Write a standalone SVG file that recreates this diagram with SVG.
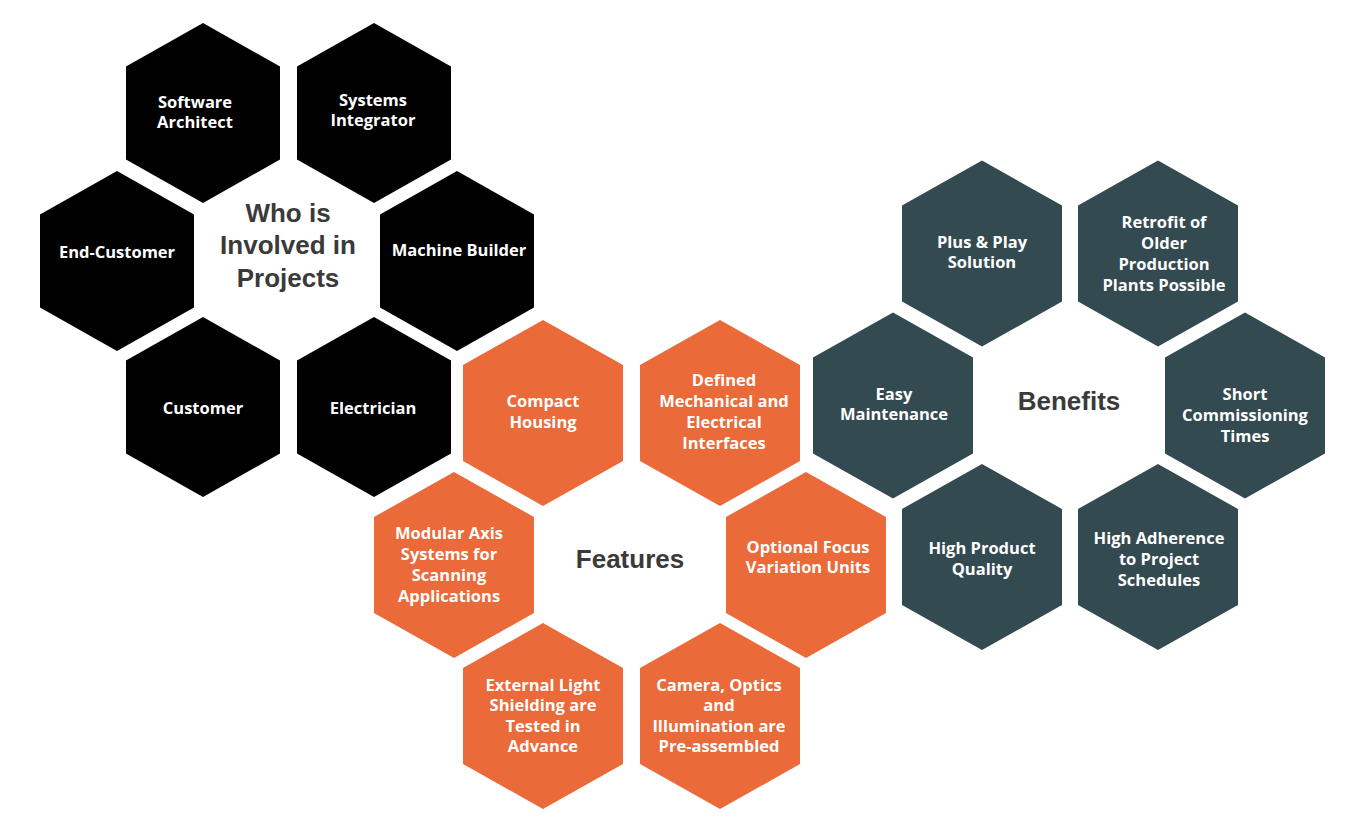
<svg xmlns="http://www.w3.org/2000/svg" xmlns:xlink="http://www.w3.org/1999/xlink" width="1371" height="834" viewBox="0 0 1371 834">
<defs>
<style>
.blk{fill:#000000}
.org{fill:#EA6A3A}
.drk{fill:#334A51}
.lbl{font-family:"Open Sans","Liberation Sans",sans-serif;font-weight:700;font-size:16.5px;fill:#ffffff;text-anchor:middle}
.ttl{font-family:"Liberation Sans",Arial,sans-serif;font-weight:700;font-size:26px;fill:#3a3a3a;text-anchor:middle}
</style>
<polygon id="hexS" points="0,-90 77,-46.5 77,46.5 0,90 -77,46.5 -77,-46.5"/>
<polygon id="hexL" points="0,-93 80,-48 80,48 0,93 -80,48 -80,-48"/>
</defs>
<rect width="1371" height="834" fill="#ffffff"/>
<g id="connectors"></g>

<g id="who-title"><text class="ttl"><tspan x="288" y="222">Who is</tspan><tspan x="288" y="254">Involved in</tspan><tspan x="288" y="287">Projects</tspan></text></g>
<g id="software-architect"><use href="#hexS" x="203" y="113" class="blk"/><text class="lbl"><tspan x="195" y="108">Software</tspan><tspan x="195" y="128">Architect</tspan></text></g>
<g id="systems-integrator"><use href="#hexS" x="374" y="113" class="blk"/><text class="lbl"><tspan x="373" y="106">Systems</tspan><tspan x="373" y="126">Integrator</tspan></text></g>
<g id="end-customer"><use href="#hexS" x="117" y="261" class="blk"/><text class="lbl"><tspan x="117" y="258">End-Customer</tspan></text></g>
<g id="machine-builder"><use href="#hexS" x="457" y="261" class="blk"/><text class="lbl"><tspan x="459" y="256">Machine Builder</tspan></text></g>
<g id="customer"><use href="#hexS" x="203" y="407" class="blk"/><text class="lbl"><tspan x="203" y="414">Customer</tspan></text></g>
<g id="electrician"><use href="#hexS" x="374" y="407" class="blk"/><text class="lbl"><tspan x="373" y="414">Electrician</tspan></text></g>

<g id="features-title"><text class="ttl"><tspan x="630" y="568">Features</tspan></text></g>
<g id="compact-housing"><use href="#hexL" x="543" y="413" class="org"/><text class="lbl"><tspan x="543" y="407">Compact</tspan><tspan x="543" y="428">Housing</tspan></text></g>
<g id="defined-interfaces"><use href="#hexL" x="720" y="413" class="org"/><text class="lbl"><tspan x="724" y="386">Defined</tspan><tspan x="724" y="407">Mechanical and</tspan><tspan x="724" y="428">Electrical</tspan><tspan x="724" y="449">Interfaces</tspan></text></g>
<g id="modular-axis"><use href="#hexL" x="454" y="565" class="org"/><text class="lbl"><tspan x="449" y="539">Modular Axis</tspan><tspan x="449" y="560">Systems for</tspan><tspan x="449" y="581">Scanning</tspan><tspan x="449" y="602">Applications</tspan></text></g>
<g id="optional-focus"><use href="#hexL" x="806" y="565" class="org"/><text class="lbl"><tspan x="808" y="553">Optional Focus</tspan><tspan x="808" y="573">Variation Units</tspan></text></g>
<g id="external-light"><use href="#hexL" x="543" y="716" class="org"/><text class="lbl"><tspan x="543" y="691">External Light</tspan><tspan x="543" y="711">Shielding are</tspan><tspan x="543" y="732">Tested in</tspan><tspan x="543" y="752">Advance</tspan></text></g>
<g id="camera-optics"><use href="#hexL" x="720" y="716" class="org"/><text class="lbl"><tspan x="719" y="691">Camera, Optics</tspan><tspan x="719" y="711">and</tspan><tspan x="719" y="732">Illumination are</tspan><tspan x="719" y="752">Pre-assembled</tspan></text></g>

<g id="benefits-title"><text class="ttl"><tspan x="1069" y="410">Benefits</tspan></text></g>
<g id="plug-play"><use href="#hexL" x="982" y="253.5" class="drk"/><text class="lbl"><tspan x="982" y="248">Plus &amp; Play</tspan><tspan x="982" y="268">Solution</tspan></text></g>
<g id="retrofit"><use href="#hexL" x="1158" y="253.5" class="drk"/><text class="lbl"><tspan x="1164" y="228">Retrofit of</tspan><tspan x="1164" y="249">Older</tspan><tspan x="1164" y="270">Production</tspan><tspan x="1164" y="291">Plants Possible</tspan></text></g>
<g id="easy-maintenance"><use href="#hexL" x="893" y="405.5" class="drk"/><text class="lbl"><tspan x="894" y="400">Easy</tspan><tspan x="894" y="420">Maintenance</tspan></text></g>
<g id="short-commissioning"><use href="#hexL" x="1245" y="405.5" class="drk"/><text class="lbl"><tspan x="1245" y="400">Short</tspan><tspan x="1245" y="421">Commissioning</tspan><tspan x="1245" y="442">Times</tspan></text></g>
<g id="high-product-quality"><use href="#hexL" x="982" y="557" class="drk"/><text class="lbl"><tspan x="982" y="554">High Product</tspan><tspan x="982" y="575">Quality</tspan></text></g>
<g id="high-adherence"><use href="#hexL" x="1158" y="557" class="drk"/><text class="lbl"><tspan x="1159" y="544">High Adherence</tspan><tspan x="1159" y="565">to Project</tspan><tspan x="1159" y="586">Schedules</tspan></text></g>
</svg>
